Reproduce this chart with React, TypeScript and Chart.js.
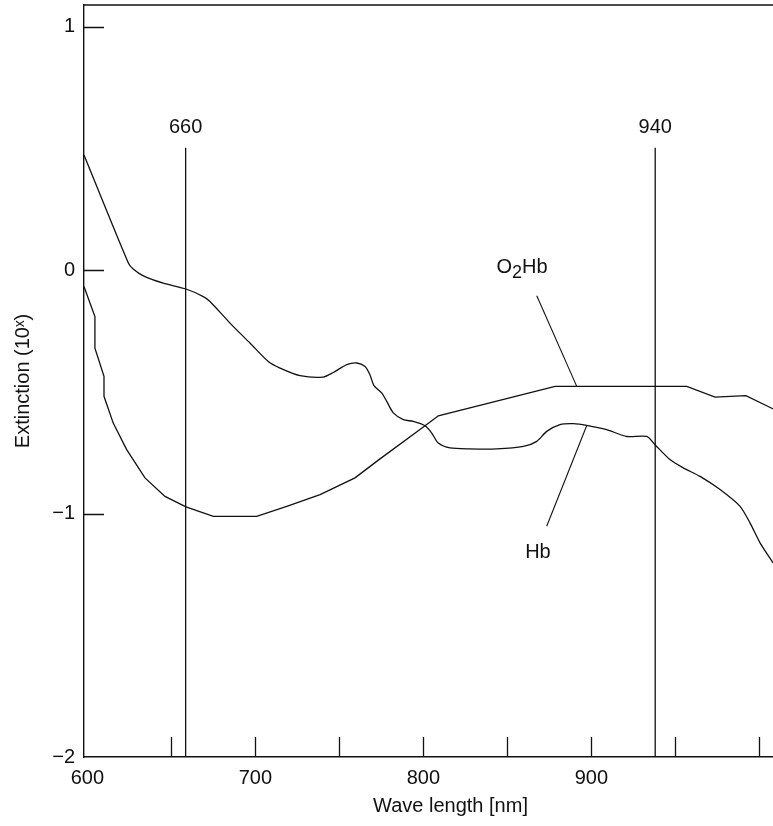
import React, { useEffect, useRef } from "react";
import { Chart, registerables } from "chart.js";

Chart.register(...registerables);

// Deoxyhemoglobin (Hb) curve: wavelength [nm] / extinction (log10)
const HB_WAVELENGTH = [
  598.0, 624.4, 627.3, 633.3, 645.2, 658.7, 669.0, 673.0, 684.9, 696.8,
  707.7, 714.7, 726.6, 740.4, 746.4, 754.4, 760.3, 765.3, 768.2, 770.6,
  775.2, 778.2, 782.1, 788.1, 794.0, 801.0, 805.0, 808.9, 815.9, 827.8,
  843.7, 859.5, 867.5, 873.4, 881.3, 889.3, 897.2, 909.1, 921.0, 932.9,
  937.9, 946.8, 954.7, 964.7, 976.6, 988.5, 994.4, 1000.4, 1008.1,
];
const HB_EXTINCTION = [
  0.474, 0.03, 0.005, -0.023, -0.053, -0.077, -0.108, -0.128, -0.217, -0.299,
  -0.375, -0.402, -0.433, -0.439, -0.42, -0.388, -0.381, -0.395, -0.429, -0.474,
  -0.504, -0.539, -0.586, -0.614, -0.621, -0.639, -0.669, -0.71, -0.73, -0.734,
  -0.734, -0.724, -0.703, -0.662, -0.634, -0.63, -0.637, -0.655, -0.683, -0.683,
  -0.717, -0.778, -0.812, -0.847, -0.901, -0.97, -1.038, -1.12, -1.202,
];

// Oxyhemoglobin (O2Hb) curve
const O2HB_WAVELENGTH = [
  598.0, 604.5, 604.5, 609.9, 609.9, 615.4, 623.4, 634.3, 646.2, 658.7,
  675.0, 700.8, 718.7, 738.5, 759.3, 774.2, 801.0, 808.9, 878.4, 956.8,
  973.6, 992.0, 1008.3,
];
const O2HB_EXTINCTION = [
  -0.067, -0.19, -0.32, -0.436, -0.518, -0.628, -0.737, -0.853, -0.929, -0.972,
  -1.011, -1.011, -0.97, -0.922, -0.853, -0.775, -0.639, -0.598, -0.477, -0.477,
  -0.521, -0.515, -0.57,
];

// Axis ticks
const X_TICKS = [600, 650, 700, 750, 800, 850, 900, 950, 1000];
const X_TICK_LABELS = ["600", "", "700", "", "800", "", "900", "", ""];
const Y_TICKS = [1, 0, -1, -2];
const Y_TICK_LABELS = ["1", "0", "\u22121", "\u22122"];

// Marker wavelengths (vertical lines) and their labels
const MARKER_WAVELENGTHS = [658.5, 938];
const MARKER_LABELS = ["660", "940"];
const MARKER_TOP = [0.503, 0.503];
const MARKER_LABEL_Y = [0.585, 0.585];

// Curve name labels and leader lines
const O2HB_LEADER_X = [867.5, 891.3];
const O2HB_LEADER_Y = [-0.105, -0.477];
const HB_LEADER_X = [873.4, 897.2];
const HB_LEADER_Y = [-1.052, -0.639];
const O2HB_LABEL_AT = [858.7, 0.01];
const HB_LABEL_AT = [868.2, -1.16];

const INK = "#111";
const FONT = '"Liberation Sans", Arial, "DejaVu Sans", sans-serif';

const pts = (xs: number[], ys: number[]) => xs.map((x, i) => ({ x, y: ys[i] }));

const framePlugin = {
  id: "frameAndTicks",
  afterDraw(chart: any) {
    const { ctx, chartArea: a, scales } = chart;
    const xs = scales.x;
    const ys = scales.y;
    ctx.save();
    ctx.strokeStyle = INK;
    ctx.lineWidth = 1.4;
    ctx.beginPath();
    ctx.moveTo(a.left, Math.round(a.top));
    ctx.lineTo(a.right, Math.round(a.top));
    ctx.stroke();
    ctx.lineWidth = 1.3;
    ctx.beginPath();
    xs.ticks.forEach((t: any) => {
      const px = Math.round(xs.getPixelForValue(t.value)) + 0.5;
      if (px - a.left < 6) return;
      ctx.moveTo(px, a.bottom);
      ctx.lineTo(px, a.bottom - 20);
    });
    ys.ticks.forEach((t: any) => {
      const py = Math.round(ys.getPixelForValue(t.value)) + 0.5;
      if (a.bottom - py < 6) return;
      ctx.moveTo(a.left, py);
      ctx.lineTo(a.left + 20, py);
    });
    ctx.stroke();

    // text labels
    ctx.fillStyle = INK;
    ctx.textAlign = "center";
    ctx.textBaseline = "middle";
    ctx.font = `20px ${FONT}`;
    MARKER_LABELS.forEach((lab, i) => {
      ctx.fillText(lab, xs.getPixelForValue(MARKER_WAVELENGTHS[i]), ys.getPixelForValue(MARKER_LABEL_Y[i]));
    });
    ctx.fillText("Hb", xs.getPixelForValue(HB_LABEL_AT[0]), ys.getPixelForValue(HB_LABEL_AT[1]));

    // O2Hb with subscript
    const cx = xs.getPixelForValue(O2HB_LABEL_AT[0]);
    const cy = ys.getPixelForValue(O2HB_LABEL_AT[1]);
    ctx.font = `20px ${FONT}`;
    const wO = ctx.measureText("O").width;
    const wHb = ctx.measureText("Hb").width;
    ctx.font = `18px ${FONT}`;
    const w2 = ctx.measureText("2").width;
    const total = wO + w2 + wHb;
    let x0 = cx - total / 2;
    ctx.textAlign = "left";
    ctx.font = `20px ${FONT}`;
    ctx.fillText("O", x0, cy);
    x0 += wO;
    ctx.font = `18px ${FONT}`;
    ctx.fillText("2", x0, cy + 5);
    x0 += w2;
    ctx.font = `20px ${FONT}`;
    ctx.fillText("Hb", x0, cy);
    ctx.restore();
  },
};

export default function App() {
  const ref = useRef<HTMLCanvasElement>(null);

  useEffect(() => {
    if (!ref.current) return;
    const lineStyle = {
      borderColor: INK,
      borderWidth: 1.3,
      pointRadius: 0,
      pointHoverRadius: 0,
      showLine: true,
      fill: false,
    };
    const datasets: any[] = [
      { ...lineStyle, label: "Hb", data: pts(HB_WAVELENGTH, HB_EXTINCTION), tension: 0.25 },
      { ...lineStyle, label: "O2Hb", data: pts(O2HB_WAVELENGTH, O2HB_EXTINCTION), tension: 0 },
      ...MARKER_WAVELENGTHS.map((w, i) => ({
        ...lineStyle,
        label: MARKER_LABELS[i],
        data: [
          { x: w, y: -2 },
          { x: w, y: MARKER_TOP[i] },
        ],
        tension: 0,
      })),
      { ...lineStyle, label: "O2Hb leader", borderWidth: 1.1, data: pts(O2HB_LEADER_X, O2HB_LEADER_Y), tension: 0 },
      { ...lineStyle, label: "Hb leader", borderWidth: 1.1, data: pts(HB_LEADER_X, HB_LEADER_Y), tension: 0 },
    ];

    const chart = new Chart(ref.current, {
      type: "scatter",
      data: { datasets },
      options: {
        animation: false,
        responsive: false,
        devicePixelRatio: 1,
        layout: { padding: { left: 0, right: 0, top: 5, bottom: 0 } },
        plugins: { legend: { display: false }, tooltip: { enabled: false } },
        scales: {
          x: {
            type: "linear",
            min: 598,
            max: 1034.3,
            afterBuildTicks: (axis: any) => {
              axis.ticks = X_TICKS.map((v) => ({ value: v }));
            },
            afterFit: (axis: any) => {
              axis.height = 69;
              axis.paddingLeft = 0;
              axis.paddingRight = 0;
            },
            grid: { display: true, drawOnChartArea: false, drawTicks: false },
            border: { display: true, color: INK, width: 1.4 },
            ticks: {
              autoSkip: false,
              maxRotation: 0,
              padding: 9,
              color: INK,
              font: { family: FONT, size: 20 },
              callback: (_v: any, i: number) => X_TICK_LABELS[i],
            },
            title: {
              display: true,
              text: "Wave length [nm]",
              color: INK,
              font: { family: FONT, size: 20 },
              padding: { top: 0, bottom: 8 },
            },
          },
          y: {
            type: "linear",
            min: -2,
            max: 1.09,
            afterBuildTicks: (axis: any) => {
              axis.ticks = Y_TICKS.map((v) => ({ value: v }));
            },
            afterFit: (axis: any) => {
              axis.width = 84;
              axis.paddingTop = 0;
              axis.paddingBottom = 0;
            },
            grid: { display: true, drawOnChartArea: false, drawTicks: false },
            border: { display: true, color: INK, width: 1.4 },
            ticks: {
              autoSkip: false,
              padding: 9,
              color: INK,
              font: { family: FONT, size: 20 },
              callback: (_v: any, i: number) => Y_TICK_LABELS[i],
            },
            title: {
              display: true,
              text: "Extinction (10\u02E3)",
              color: INK,
              font: { family: FONT, size: 20 },
              padding: { top: 11, bottom: 0 },
            },
          },
        },
      },
      plugins: [framePlugin],
    });
    return () => chart.destroy();
  }, []);

  return (
    <div
      style={{
        position: "absolute",
        left: 0,
        top: 0,
        width: 773,
        height: 826,
        overflow: "hidden",
        background: "#fff",
      }}
    >
      <canvas ref={ref} width={817} height={826} style={{ display: "block", width: 817, height: 826 }} />
    </div>
  );
}
